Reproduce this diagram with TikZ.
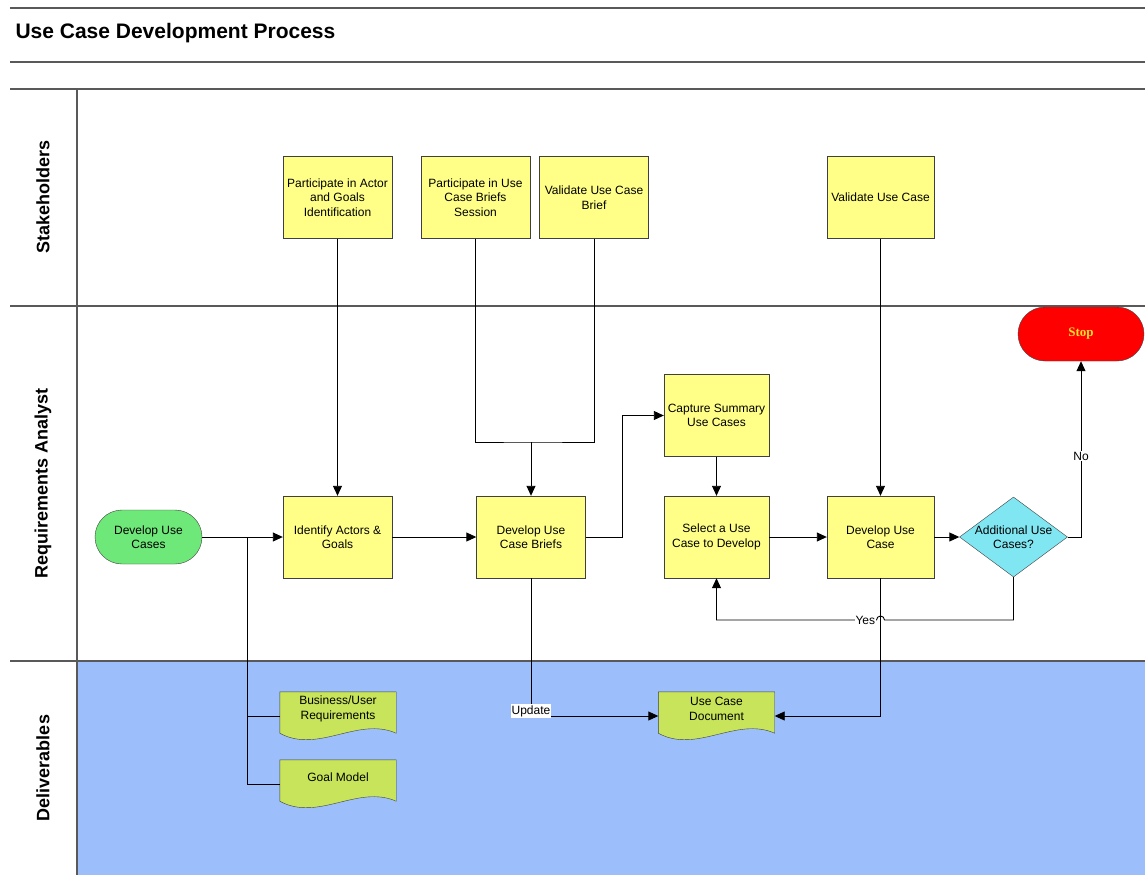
\documentclass[tikz,border=0pt]{standalone}
\usepackage{fontspec}
\setmainfont{Liberation Sans}
\newfontfamily\stopfont{Liberation Serif}
\usetikzlibrary{shapes.misc,shapes.geometric,arrows.meta,calc}
\definecolor{boxyellow}{HTML}{FFFF88}
\definecolor{startgreen}{HTML}{6EE878}
\definecolor{diacyan}{HTML}{80E6F2}
\definecolor{docgreen}{HTML}{C8E45A}
\definecolor{laneblue}{HTML}{9CBEFA}
\definecolor{stopyellow}{HTML}{FFE030}
\pgfdeclarelayer{bg}
\pgfdeclarelayer{docs}
\pgfsetlayers{bg,docs,main}
\begin{document}
\begin{tikzpicture}[x=1pt,y=-1pt,
  lane/.style={draw=black!65,line width=1.1pt},
  proc/.style={rectangle,draw=black!75,fill=boxyellow,minimum width=109,minimum height=82,inner sep=1pt,align=center,font=\fontsize{12}{14.5}\selectfont},
  term/.style={rounded rectangle,draw=black!75,minimum height=54,inner sep=1pt,align=center,font=\fontsize{12}{14.5}\selectfont},
  doc/.style={rectangle,minimum width=116,minimum height=48,inner sep=0pt},
  doctext/.style={align=center,yshift=7pt,font=\fontsize{12}{14.5}\selectfont},
  docshape/.style={draw=black!75,fill=docgreen},
  conn/.style={draw=black,line width=0.9pt},
  arr/.style={conn,-{Triangle[length=10pt,width=9pt]}},
  lbl/.style={fill=white,inner sep=1pt,font=\fontsize{12}{14}\selectfont},
  lanelbl/.style={rotate=90,font=\fontsize{18}{20}\selectfont\bfseries}
]
\useasboundingbox (0,0) rectangle (1145,875);
\begin{pgfonlayer}{bg}
\fill[white] (0,0) rectangle (1145,875);
\fill[laneblue] (77,661) rectangle (1145,875);
\end{pgfonlayer}

% frame lines
\draw[lane] (10,8) -- (1145,8);
\draw[lane] (10,62) -- (1145,62);
\draw[lane] (10,89) -- (1145,89);
\draw[lane] (10,306) -- (1145,306);
\draw[lane] (10,661) -- (1145,661);
\draw[lane] (77,89) -- (77,875);

\node[anchor=west,font=\fontsize{21}{24}\selectfont\bfseries] (title) at (12,33) {Use Case Development Process};
\node[lanelbl] (l1) at (43,197) {Stakeholders};
\node[lanelbl] (l2) at (43,483) {Requirements Analyst};
\node[lanelbl] (l3) at (43,768) {Deliverables};

% stakeholder tasks
\node[proc] (pa) at (337.5,197.5) {Participate in Actor\\and Goals\\Identification};
\node[proc] (pb) at (475.5,197.5) {Participate in Use\\Case Briefs\\Session};
\node[proc] (vb) at (594,197.5) {Validate Use Case\\Brief};
\node[proc,minimum width=107] (vu) at (880.5,197.5) {Validate Use Case};

% analyst tasks
\node[term,fill=startgreen,minimum width=109] (st) at (148.5,537) {Develop Use\\Cases};
\node[proc] (ia) at (337.5,537) {Identify Actors \&\\Goals};
\node[proc] (db) at (531,537) {Develop Use\\Case Briefs};
\node[proc,minimum width=105] (cs) at (716.5,415.5) {Capture Summary\\Use Cases};
\node[proc,minimum width=105] (sel) at (716.5,537) {Select a Use\\Case to Develop};
\node[proc,minimum width=107] (du) at (880.5,537) {Develop Use\\Case};
\node[diamond,draw=black!75,fill=diacyan,minimum width=108,minimum height=80,inner sep=0pt,
  label={[align=center,font=\fontsize{12}{14.5}\selectfont]center:Additional Use\\Cases?}] (dia) at (1013.5,537) {};
\node[term,fill=red,minimum width=128,font=\stopfont\bfseries\fontsize{13}{15}\selectfont,text=stopyellow] (stop) at (1081,334) {Stop};

% deliverables
\node[doc,label={[doctext]center:Business/User\\Requirements}] (br) at (338,716) {};
\node[doc,label={[doctext]center:Goal Model}] (gm) at (338,784) {};
\node[doc,label={[doctext]center:Use Case\\Document}] (ucd) at (716.5,716) {};
\begin{pgfonlayer}{docs}
\foreach \n in {br,gm,ucd}{
  \draw[docshape] (\n.north west) -- (\n.north east) -- ($(\n.south east)+(0,-7)$)
    .. controls ($(\n.south)+(20,-24)$) and ($(\n.south)+(-20,14)$) .. ($(\n.south west)+(0,-7)$) -- cycle;
}
\end{pgfonlayer}

% connectors
\coordinate (j1) at (247,537);
\coordinate (jb) at (531,442);
\coordinate (yl) at (0,620);
\draw[arr] (st.east) -- (ia.west);
\draw[conn] (j1) |- (gm.west);
\draw[conn] (j1 |- br.west) -- (br.west);
\draw[arr] (pa.south) -- (ia.north);
\draw[arr] (ia.east) -- (db.west);
\draw[conn] (pb.south) |- (jb) -| (vb.south);
\draw[arr] (jb) -- (db.north);
\draw[arr] (db.east) -- ++(37,0) |- (cs.west);
\draw[arr] (cs.south) -- (sel.north);
\draw[arr] (sel.east) -- (du.west);
\draw[arr] (vu.south) -- (du.north);
\draw[arr] (du.east) -- (dia.west);
\draw[arr] (dia.east) -| node[lbl,pos=0.73]{No} (stop.south);
\draw[arr] (du.south) |- (ucd.east);
\draw[arr] (dia.south) -- (dia.south |- yl) -- (884.5,620) arc[start angle=0,end angle=-180,radius=4]
  -- node[lbl,pos=0.07]{Yes} (sel.south |- yl) -- (sel.south);
\draw[arr] (db.south) |- node[lbl,pos=0.5,yshift=5pt]{Update} (ucd.west);
\end{tikzpicture}
\end{document}
